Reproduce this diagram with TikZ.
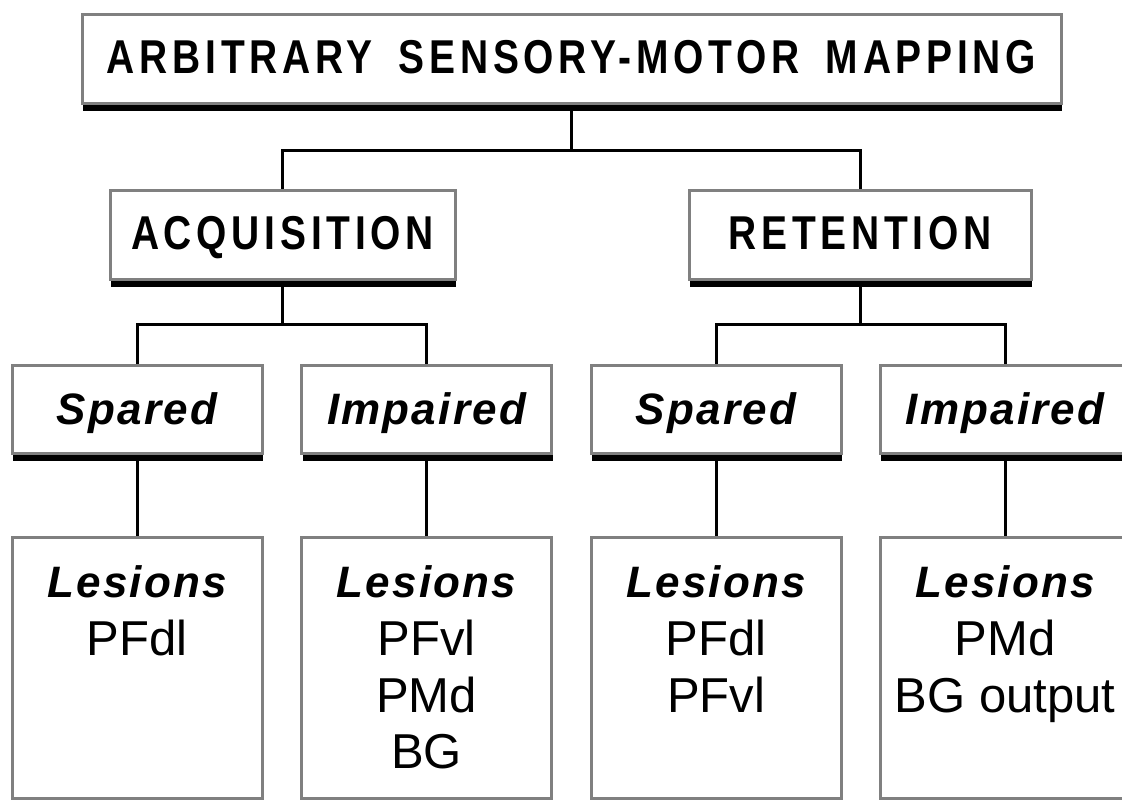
\documentclass[tikz,border=0pt]{standalone}
\usepackage{fontspec}
\setmainfont{Liberation Sans}
\newfontfamily\headfont[FakeStretch=0.82,LetterSpace=10]{Liberation Sans}
\newfontfamily\subfont[LetterSpace=5]{Liberation Sans}
\usetikzlibrary{backgrounds}
\definecolor{boxgray}{RGB}{128,128,128}
\newcommand{\wsp}{\hspace{26pt}}
\tikzset{
  box/.style={draw=boxgray, line width=3pt, fill=white, inner sep=0pt},
  shadowed/.style={preaction={fill=black, transform canvas={shift={(1pt,-8pt)}}}},
  head/.style={font=\headfont\bfseries\fontsize{47.5}{57}\selectfont, text height=34pt, text depth=4pt},
  sub/.style={font=\subfont\bfseries\itshape\fontsize{44}{53}\selectfont, text height=31.5pt, text depth=1.5pt},
  lesh/.style={font=\subfont\bfseries\itshape\fontsize{44}{53}\selectfont, inner sep=0pt, anchor=base},
  lesr/.style={font=\fontsize{49}{57}\selectfont, inner sep=0pt, anchor=base},
  conn/.style={line width=3pt, black},
  smallbox/.style={box, shadowed, sub, minimum width=250pt, minimum height=88pt},
  lesbox/.style={box, minimum width=250pt, minimum height=261pt},
}
\begin{document}
\begin{tikzpicture}[x=1pt,y=-1pt]
\clip (0,0) rectangle (1122,801);
% junction points
\coordinate (j1) at (571.5,150);
\coordinate (j2) at (282.5,324);
\coordinate (j3) at (860,324);
% level 1
\node[box, shadowed, head, minimum width=979pt, minimum height=89pt] (top) at (571.5,58.5) {ARBITRARY\wsp SENSORY-MOTOR\wsp MAPPING};
% level 2
\node[box, shadowed, head, minimum width=345pt, minimum height=89pt] (acq) at (282.5,234.5) {ACQUISITION};
\node[box, shadowed, head, minimum width=342pt, minimum height=89pt] (ret) at (860,234.5) {RETENTION};
% level 3
\node[smallbox] (sa) at (137,409) {Spared};
\node[smallbox] (ia) at (426.5,409) {Impaired};
\node[smallbox] (sr) at (716,409) {Spared};
\node[smallbox] (ir) at (1005,409) {Impaired};
% level 4
\node[lesbox] (la) at (137,667.5) {};
\node[lesbox] (lb) at (426.5,667.5) {};
\node[lesbox] (lc) at (716,667.5) {};
\node[lesbox] (ld) at (1005,667.5) {};
% lesion texts
\node[lesh] (la1) at (137,597) {Lesions};
\node[lesr] (la2) at (137,655) {PFdl};
\node[lesh] (lb1) at (426.5,597) {Lesions};
\node[lesr] (lb2) at (426.5,655) {PFvl};
\node[lesr] (lb3) at (426.5,712) {PMd};
\node[lesr] (lb4) at (426.5,768) {BG};
\node[lesh] (lc1) at (716,597) {Lesions};
\node[lesr] (lc2) at (716,655) {PFdl};
\node[lesr] (lc3) at (716,712) {PFvl};
\node[lesh] (ld1) at (1005,597) {Lesions};
\node[lesr] (ld2) at (1005,655) {PMd};
\node[lesr] (ld3) at (1005,712) {BG output};
% connectors
\begin{scope}[on background layer]
\fill[white] (0,0) rectangle (1122,801);
\draw[conn] (top.south) -- (j1);
\draw[conn] (acq.north) |- (j1) -| (ret.north);
\draw[conn] (acq.south) -- (j2);
\draw[conn] (sa.north) |- (j2) -| (ia.north);
\draw[conn] (ret.south) -- (j3);
\draw[conn] (sr.north) |- (j3) -| (ir.north);
\draw[conn] (sa.south) -- (la.north);
\draw[conn] (ia.south) -- (lb.north);
\draw[conn] (sr.south) -- (lc.north);
\draw[conn] (ir.south) -- (ld.north);
\end{scope}
\end{tikzpicture}
\end{document}
